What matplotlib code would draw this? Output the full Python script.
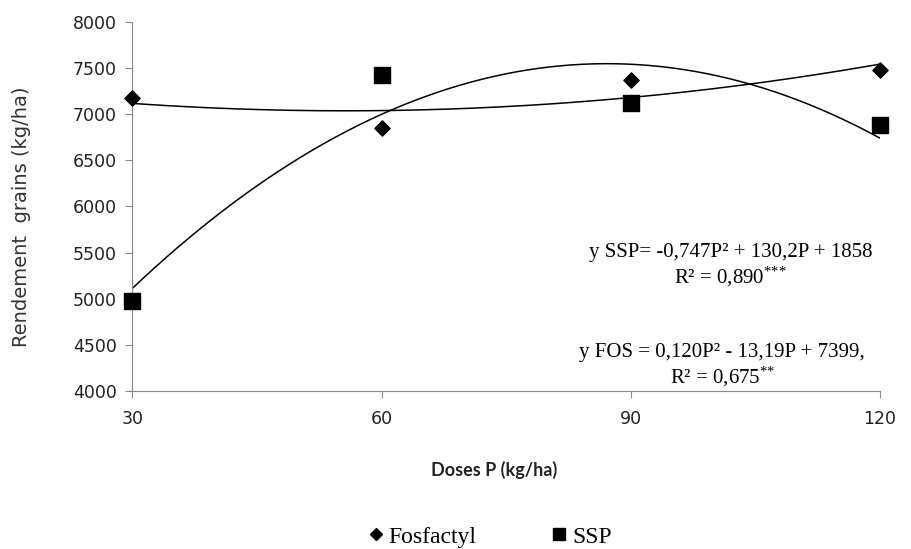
import numpy as np
import matplotlib
matplotlib.use("Agg")
import matplotlib.pyplot as plt
from matplotlib.lines import Line2D

plt.rcParams["mathtext.fontset"] = "custom"
plt.rcParams["mathtext.rm"] = "Liberation Serif"
plt.rcParams["mathtext.it"] = "Liberation Serif:italic"

# Data
doses = [30, 60, 90, 120]
fosfactyl = [7180, 6850, 7370, 7480]
ssp = [4970, 7420, 7120, 6880]

eq_ssp = "y SSP= -0,747P² + 130,2P + 1858\nR² = 0,890$^{{*}{*}{*}}$"
eq_fos = "y FOS = 0,120P² - 13,19P + 7399,\nR² = 0,675$^{{*}{*}}$"

fig = plt.figure(figsize=(9.12, 5.49), dpi=100)
ax = fig.add_axes([0.145, 0.288, 0.820, 0.672])

# Points
ax.scatter(doses, fosfactyl, marker="D", s=60, color="black", zorder=3, clip_on=False)
ax.scatter(doses, ssp, marker="s", s=120, color="black", zorder=3, clip_on=False)

# Second-order trend lines
xs = np.linspace(30, 120, 200)
for vals in (fosfactyl, ssp):
    coef = np.polyfit(doses, vals, 2)
    ax.plot(xs, np.polyval(coef, xs), color="black", lw=1.1, zorder=2)

ax.set_xlim(30, 120)
ax.set_ylim(4000, 8000)
ax.set_xticks(doses)
ax.set_yticks(np.arange(4000, 8001, 500))
ax.tick_params(axis="both", labelsize=12.5, color="#888888", direction="out", length=5,
               labelcolor="#222222")
ax.tick_params(axis="x", pad=9)
ax.tick_params(axis="y", pad=6)

for side in ("top", "right"):
    ax.spines[side].set_visible(False)
for side in ("left", "bottom"):
    ax.spines[side].set_color("#888888")

fig.text(22 / 912, 1 - 217 / 549, "Rendement  grains (kg/ha)", rotation=90,
         ha="center", va="center", fontsize=14, color="#333333")
fig.text(494 / 912, 1 - 470 / 549, "Doses P (kg/ha)", ha="center", va="center",
         family="Lato", fontweight="bold", fontsize=13, color="#222222")

ax.text(0.80, 0.339, eq_ssp, transform=ax.transAxes, ha="center", va="center",
        family="Liberation Serif", fontsize=15, linespacing=1.15)
ax.text(0.789, 0.068, eq_fos, transform=ax.transAxes, ha="center", va="center",
        family="Liberation Serif", fontsize=15, linespacing=1.15)

handles = [Line2D([], [], marker="D", color="black", ls="none", markersize=6),
           Line2D([], [], marker="s", color="black", ls="none", markersize=9)]
fig.legend(handles, ["Fosfactyl", "SSP"], loc="center", bbox_to_anchor=(0.535, 0.022),
           ncol=2, frameon=False, prop={"family": "Liberation Serif", "size": 17},
           handletextpad=0.05, columnspacing=3.0, handlelength=1)

fig.savefig("out.png", dpi=100)
